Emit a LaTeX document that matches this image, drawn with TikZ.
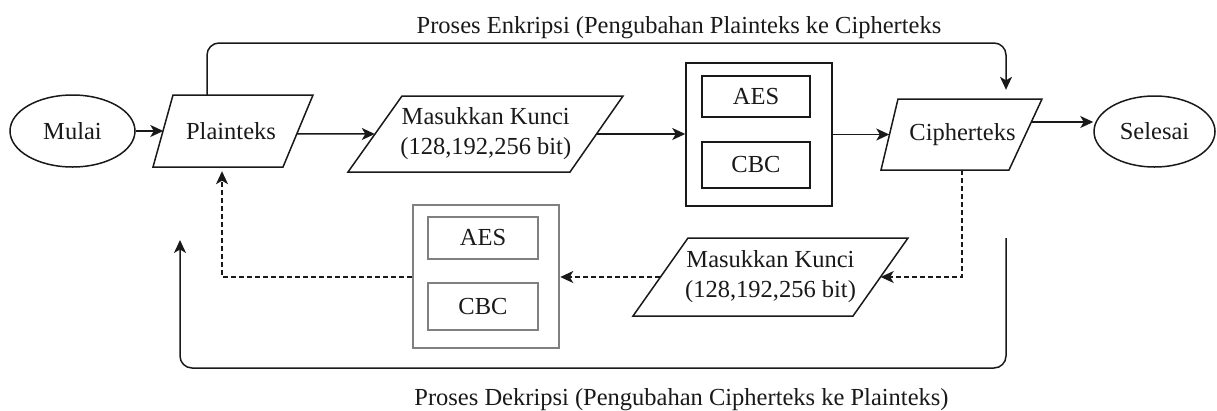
\documentclass[tikz,border=0pt]{standalone}
\usepackage{fontspec}
\setmainfont{Liberation Serif}
\usetikzlibrary{shapes.geometric,arrows.meta,calc}
\definecolor{ink}{RGB}{25,25,25}
\definecolor{boxgray}{RGB}{128,128,128}
\begin{document}
\begin{tikzpicture}[x=1pt,y=-1pt,
  font=\fontsize{24.5}{30}\selectfont,
  line/.style={draw=ink, line width=1.5pt},
  arr/.style={line, -{Stealth[length=13pt,width=12pt,inset=3.5pt]}},
  dasharr/.style={arr, dash pattern=on 5pt off 3pt},
  oval/.style={ellipse, draw=ink, line width=1.5pt, inner sep=0pt, text=ink},
  txt/.style={inner sep=0pt, align=center, text=ink},
  para/.style={draw=ink, line width=1.5pt, line join=miter},
  encbox/.style={draw=ink, line width=1.5pt, inner sep=0pt, text=ink},
  decbox/.style={draw=boxgray, line width=2.5pt, inner sep=0pt, text=ink},
]
\useasboundingbox (0,0) rectangle (1217,410);

% ---- top row ----
\node[oval, minimum width=125, minimum height=72] (mulai) at (72.5,131) {Mulai};

\draw[para] (173,95) coordinate (p-tl) -- (313,95) coordinate (p-tr)
  -- (283,167) coordinate (p-br) -- (153,167) coordinate (p-bl) -- cycle;
\node[txt, minimum width=135, minimum height=72] (plain) at (231,131) {Plainteks};

\draw[para] (402,96) coordinate (ke-tl) -- (623,96) coordinate (ke-tr)
  -- (570,172) coordinate (ke-br) -- (348,172) coordinate (ke-bl) -- cycle;
\node[txt, minimum width=221.5, minimum height=76] (keyE) at (485.75,134)
  {Masukkan Kunci\\(128,192,256 bit)};

\node[encbox, minimum width=146, minimum height=143] (boxE) at (759,134.5) {};
\node[encbox, minimum width=108, minimum height=41] (aesE) at (756,96.5) {AES};
\node[encbox, minimum width=108, minimum height=46] (cbcE) at (756,165) {CBC};

\draw[para] (898,99) coordinate (c-tl) -- (1042,99) coordinate (c-tr)
  -- (1009,170) coordinate (c-br) -- (881,170) coordinate (c-bl) -- cycle;
\node[txt, minimum width=146, minimum height=71] (cipher) at (962.5,134.5) {Cipherteks};

\node[oval, minimum width=121, minimum height=71] (selesai) at (1154.5,131.5) {Selesai};

% ---- bottom row ----
\draw[para] (688,238) coordinate (kd-tl) -- (908,238) coordinate (kd-tr)
  -- (853,316) coordinate (kd-br) -- (633,316) coordinate (kd-bl) -- cycle;
\node[txt, minimum width=220, minimum height=78] (keyD) at (770.5,277)
  {Masukkan Kunci\\(128,192,256 bit)};

\node[decbox, minimum width=146, minimum height=143] (boxD) at (486,276.5) {};
\node[decbox, minimum width=110, minimum height=42] (aesD) at (483,238) {AES};
\node[decbox, minimum width=110, minimum height=47] (cbcD) at (483,306.5) {CBC};

% ---- titles ----
\node[txt, anchor=base] (enctitle) at (679,33)
  {Proses Enkripsi (Pengubahan Plainteks ke Cipherteks};
\node[txt, anchor=base] (dectitle) at (681.5,405)
  {Proses Dekripsi (Pengubahan Cipherteks ke Plainteks)};

% ---- connectors ----
\draw[arr] (mulai.east) -- (plain.west);
\draw[arr] ($(p-tr)!0.54!(p-br)$) -- (keyE.west);
\draw[arr] (keyE.east) -- (keyE.east -| boxE.west);
\draw[arr] (boxE.east) -- (boxE.east -| cipher.west);
\draw[arr] ($(c-tr)!0.324!(c-br)$) coordinate (c2s) -- (c2s -| selesai.west);

\draw[arr, rounded corners=12] ($(p-tl)!0.243!(p-tr)$) -- ++(0,-52)
  -| ($(cipher.north)+(43.5,-9)$);

\draw[dasharr] ($(cipher.south)+(-0.5,0)$) |- (keyD.east);
\draw[dasharr] (keyD.west) -- (keyD.west -| boxD.east);
\draw[dasharr] (boxD.west |- keyD.west) -| ($(plain.south)+(-9,4)$);

\coordinate (dstart) at (1006,238);
\coordinate (dend) at (180,240);
\draw[arr, rounded corners=12] (dstart) -- ++(0,130) -| (dend);
\end{tikzpicture}
\end{document}
